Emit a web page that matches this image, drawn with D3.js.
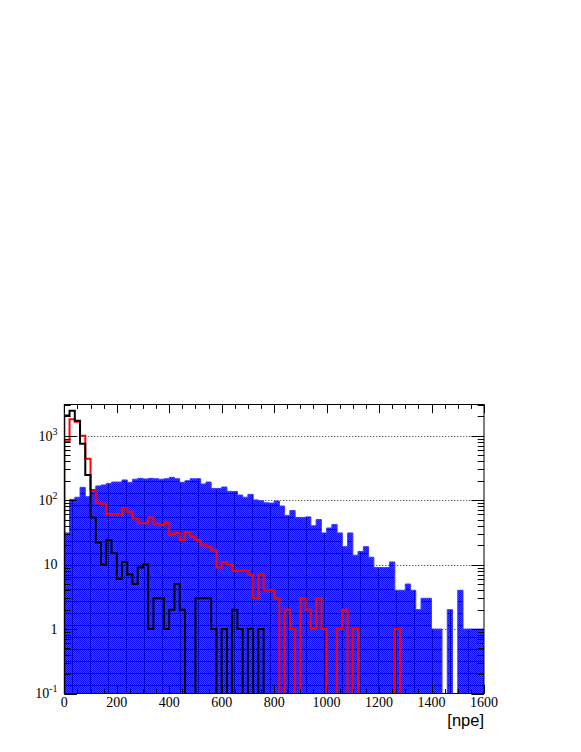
<!DOCTYPE html>
<html>
<head>
<meta charset="utf-8">
<script src="https://cdn.jsdelivr.net/npm/d3@7"></script>
<style>
  body { margin: 0; background: #fff; }
  svg { display: block; }
</style>
</head>
<body>
<div id="chart"></div>
<script>
// histogram binning: 80 bins of 20 npe from 0 to 1600
let binWidth = 20
let nBins = 80

// blue filled histogram (counts per bin)
let blueCounts = [
  31, 103, 111, 158, 113, 136, 166, 172, 182, 191,
  191, 206, 189, 211, 218, 213, 218, 215, 211, 215,
  226, 215, 189, 200, 215, 215, 178, 191, 152, 152,
  160, 137, 136, 120, 111, 123, 101, 98, 91, 90,
  97, 81, 58, 69, 54, 54, 55, 40, 50, 31,
  37, 42, 31, 19, 31, 14, 16, 19, 13, 9,
  9, 9, 11, 4, 4, 5, 4, 2, 3, 3,
  1, 1, 0, 2, 0, 4, 1, 1, 1, 1
]

// red line histogram
let redCounts = [
  820, 1800, 1650, 1000, 440, 144, 90, 88, 61, 61,
  61, 75, 66, 52, 44, 44, 54, 43, 41, 45,
  29, 31, 24, 32, 27, 24, 20, 19, 17, 9,
  11, 10, 8, 8, 8, 7, 3, 7, 4, 4,
  3, 0, 2, 1, 0, 3, 2, 1, 3, 1,
  0, 0, 1, 2, 0, 1, 0, 0, 0, 0,
  0, 0, 0, 1, 0, 0, 0, 0, 0, 0,
  0, 0, 0, 0, 0, 0, 0, 0, 0, 0
]

// black line histogram
let blackCounts = [
  2050, 2450, 1700, 750, 245, 54, 22, 10, 24, 15,
  6, 11, 7, 5, 9, 10, 1, 3, 3, 1,
  2, 5, 2, 0, 0, 3, 3, 3, 1, 0,
  1, 0, 2, 1, 0, 1, 0, 1, 0, 0,
  0, 0, 0, 0, 0, 0, 0, 0, 0, 0,
  0, 0, 0, 0, 0, 0, 0, 0, 0, 0,
  0, 0, 0, 0, 0, 0, 0, 0, 0, 0,
  0, 0, 0, 0, 0, 0, 0, 0, 0, 0
]

let xTicks = [0, 200, 400, 600, 800, 1000, 1200, 1400, 1600]
let yDecades = [0.1, 1, 10, 100, 1000]
let yTickLabels = [["10", "-1"], ["1", null], ["10", null], ["10", "2"], ["10", "3"]]
let xTitle = "[npe]"

// frame in pixels
let frame = {left: 64.3, right: 484, top: 404.5, bottom: 693.5}

let x = d3.scaleLinear()
    .domain([0, binWidth * nBins])
    .range([frame.left, frame.right])

let y = d3.scaleLog()
    .domain([0.1, 3050])
    .range([frame.bottom, frame.top])

let svg = d3.select("#chart").append("svg")
    .attr("width", 581)
    .attr("height", 752)

svg.append("rect").attr("width", 581).attr("height", 752).attr("fill", "white")

let defs = svg.append("defs")
defs.append("clipPath").attr("id", "frameclip")
    .append("rect")
    .attr("x", frame.left).attr("y", frame.top)
    .attr("width", frame.right - frame.left)
    .attr("height", frame.bottom - frame.top)

// checker-like blue fill, like the ROOT hatch after rasterising
let checker = defs.append("pattern")
    .attr("id", "checker")
    .attr("patternUnits", "userSpaceOnUse")
    .attr("width", 2).attr("height", 2)
checker.append("rect").attr("width", 2).attr("height", 2).attr("fill", "#1010f8")
checker.append("rect").attr("width", 1).attr("height", 1).attr("fill", "#4040ff")
checker.append("rect").attr("x", 1).attr("y", 1).attr("width", 1).attr("height", 1).attr("fill", "#4040ff")

// darker grid seen in the raster of the fill
let pat = defs.append("pattern")
    .attr("id", "bluefill")
    .attr("patternUnits", "userSpaceOnUse")
    .attr("x", 0).attr("y", 1)
    .attr("width", 18).attr("height", 12)
pat.append("rect").attr("width", 18).attr("height", 12).attr("fill", "url(#checker)")
pat.append("rect").attr("width", 18).attr("height", 1).attr("fill", "#0000c0")
pat.append("rect").attr("width", 1).attr("height", 12).attr("fill", "#0000c8")

let plot = svg.append("g").attr("clip-path", "url(#frameclip)")

// dotted horizontal grid at each decade
plot.selectAll(".grid")
    .data(yDecades.slice(1))
    .enter()
    .append("line")
    .attr("x1", frame.left).attr("x2", frame.right)
    .attr("y1", d => Math.round(y(d)) + 0.5).attr("y2", d => Math.round(y(d)) + 0.5)
    .attr("stroke", "#222")
    .attr("stroke-dasharray", "1,2")

function stepPath(vals) {
  let p = d3.path()
  p.moveTo(x(0), frame.bottom + 2)
  vals.forEach((v, i) => {
    let yy = v > 0 ? y(v) : frame.bottom + 2
    p.lineTo(x(i * binWidth), yy)
    p.lineTo(x((i + 1) * binWidth), yy)
  })
  p.lineTo(x(nBins * binWidth), frame.bottom + 2)
  return p.toString()
}

plot.append("path")
    .attr("d", stepPath(blueCounts) + "Z")
    .attr("fill", "url(#bluefill)")
    .attr("stroke", "#3a3aff")
    .attr("stroke-width", 1)

plot.append("path")
    .attr("d", stepPath(redCounts))
    .attr("fill", "none")
    .attr("stroke", "#ff0000")
    .attr("stroke-width", 2)

plot.append("path")
    .attr("d", stepPath(blackCounts))
    .attr("fill", "none")
    .attr("stroke", "#000")
    .attr("stroke-width", 2)

// frame
svg.append("rect")
    .attr("x", frame.left).attr("y", frame.top)
    .attr("width", frame.right - frame.left)
    .attr("height", frame.bottom - frame.top)
    .attr("fill", "none")
    .attr("stroke", "#000")
    .attr("stroke-width", 1)

let axes = svg.append("g").attr("stroke", "#000").attr("stroke-width", 1)

// x ticks: major every 200, minor every 50, on bottom and top
let xMinor = d3.range(0, 1601, 50)
xMinor.forEach(v => {
  let len = v % 200 === 0 ? 8.7 : 4.4
  let px = Math.round(x(v)) + 0.5
  axes.append("line").attr("x1", px).attr("x2", px)
      .attr("y1", frame.bottom).attr("y2", frame.bottom - len)
  axes.append("line").attr("x1", px).attr("x2", px)
      .attr("y1", frame.top).attr("y2", frame.top + len)
})

// y ticks: log decades with 2..9 minors, on left and right
let yMinor = []
yDecades.forEach(d => {
  for (let k = 1; k <= 9; k++) {
    let v = d * k
    if (v <= 3050) yMinor.push({v: v, major: k === 1})
  }
})
yMinor.forEach(t => {
  let len = t.major ? 12.6 : 6.3
  let py = Math.round(y(t.v)) + 0.5
  axes.append("line").attr("x1", frame.left).attr("x2", frame.left + len)
      .attr("y1", py).attr("y2", py)
  axes.append("line").attr("x1", frame.right).attr("x2", frame.right - len)
      .attr("y1", py).attr("y2", py)
})

svg.selectAll(".xlab")
    .data(xTicks)
    .enter()
    .append("text")
    .attr("x", d => x(d))
    .attr("y", 706.5)
    .attr("text-anchor", "middle")
    .attr("font-family", "'Liberation Serif', 'Times New Roman', serif")
    .attr("font-size", 14)
    .attr("fill", "#000")
    .text(d => d)

let ylab = svg.selectAll(".ylab")
    .data(yDecades)
    .enter()
    .append("text")
    .attr("x", 57.5)
    .attr("y", d => y(d) + 4.8)
    .attr("text-anchor", "end")
    .attr("font-family", "'Liberation Serif', 'Times New Roman', serif")
    .attr("font-size", 14)
    .attr("fill", "#000")
ylab.each(function(d, i) {
  let lab = yTickLabels[i]
  let t = d3.select(this)
  t.append("tspan").text(lab[0])
  if (lab[1]) {
    t.append("tspan").attr("dy", -6).attr("font-size", 10).text(lab[1])
  }
})

svg.append("text")
    .attr("x", 484)
    .attr("y", 726)
    .attr("text-anchor", "end")
    .attr("font-family", "'Liberation Sans', Arial, sans-serif")
    .attr("font-size", 16.5)
    .attr("fill", "#000")
    .text(xTitle)
</script>
</body>
</html>
